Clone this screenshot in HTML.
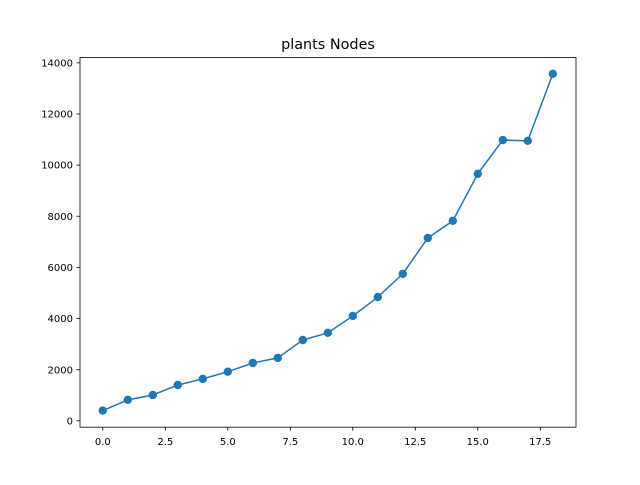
<!DOCTYPE html>
<html><head><meta charset="utf-8"><style>
body{margin:0;background:#fff}
svg text{font-family:"DejaVu Sans","Liberation Sans",sans-serif;fill:#000}
</style></head><body>
<svg id="chart" width="640" height="480" xmlns="http://www.w3.org/2000/svg">
<rect width="640" height="480" fill="#fff"/>
<text x="328" y="49" font-size="14.4" text-anchor="middle">plants Nodes</text>
<g id="plot"></g>
<rect x="80" y="57.6" width="496" height="369.6" fill="none" stroke="#000" stroke-width="0.8"/>
</svg>
<script>
const xValues=[0,1,2,3,4,5,6,7,8,9,10,11,12,13,14,15,16,17,18];
const yValues=[400,820,1010,1400,1640,1920,2260,2460,3160,3440,4100,4840,5750,7150,7820,9660,10980,10950,13570];
const xTicks=[0,2.5,5,7.5,10,12.5,15,17.5];
const xTickLabels=["0.0","2.5","5.0","7.5","10.0","12.5","15.0","17.5"];
const yTicks=[0,2000,4000,6000,8000,10000,12000,14000];
const yTickLabels=["0","2000","4000","6000","8000","10000","12000","14000"];
const ns="http://www.w3.org/2000/svg";
const g=document.getElementById('plot');
const xs=v=>102.8+v*25.0;
const ys=v=>420.8-v*0.02557;
function mk(t,a){const e=document.createElementNS(ns,t);for(const k in a)e.setAttribute(k,a[k]);g.appendChild(e);return e;}
xTicks.forEach((t,i)=>{
  const l=mk('line',{x1:xs(t),x2:xs(t),y1:427.2,y2:430.7,stroke:'#000','stroke-width':0.8});
  
  
  const tx=mk('text',{x:xs(t),y:445,'font-size':10,'text-anchor':'middle'});
  tx.textContent=xTickLabels[i];
  
  
});
yTicks.forEach((t,i)=>{
  const l=mk('line',{x1:76.5,x2:80,y1:ys(t),y2:ys(t),stroke:'#000','stroke-width':0.8});
  
  
  const tx=mk('text',{x:73,y:ys(t)+3.6,'font-size':10,'text-anchor':'end'});
  tx.textContent=yTickLabels[i];
  
  
});
const pl=mk('polyline',{points:xValues.map((x,i)=>xs(x)+','+ys(yValues[i])).join(' '),fill:'none',stroke:'#1f77b4','stroke-width':1.5});


xValues.forEach((x,i)=>{
  const c=mk('circle',{cx:xs(x),cy:ys(yValues[i]),r:4.2,fill:'#1f77b4'});
  
  
});
</script>
</body></html>
